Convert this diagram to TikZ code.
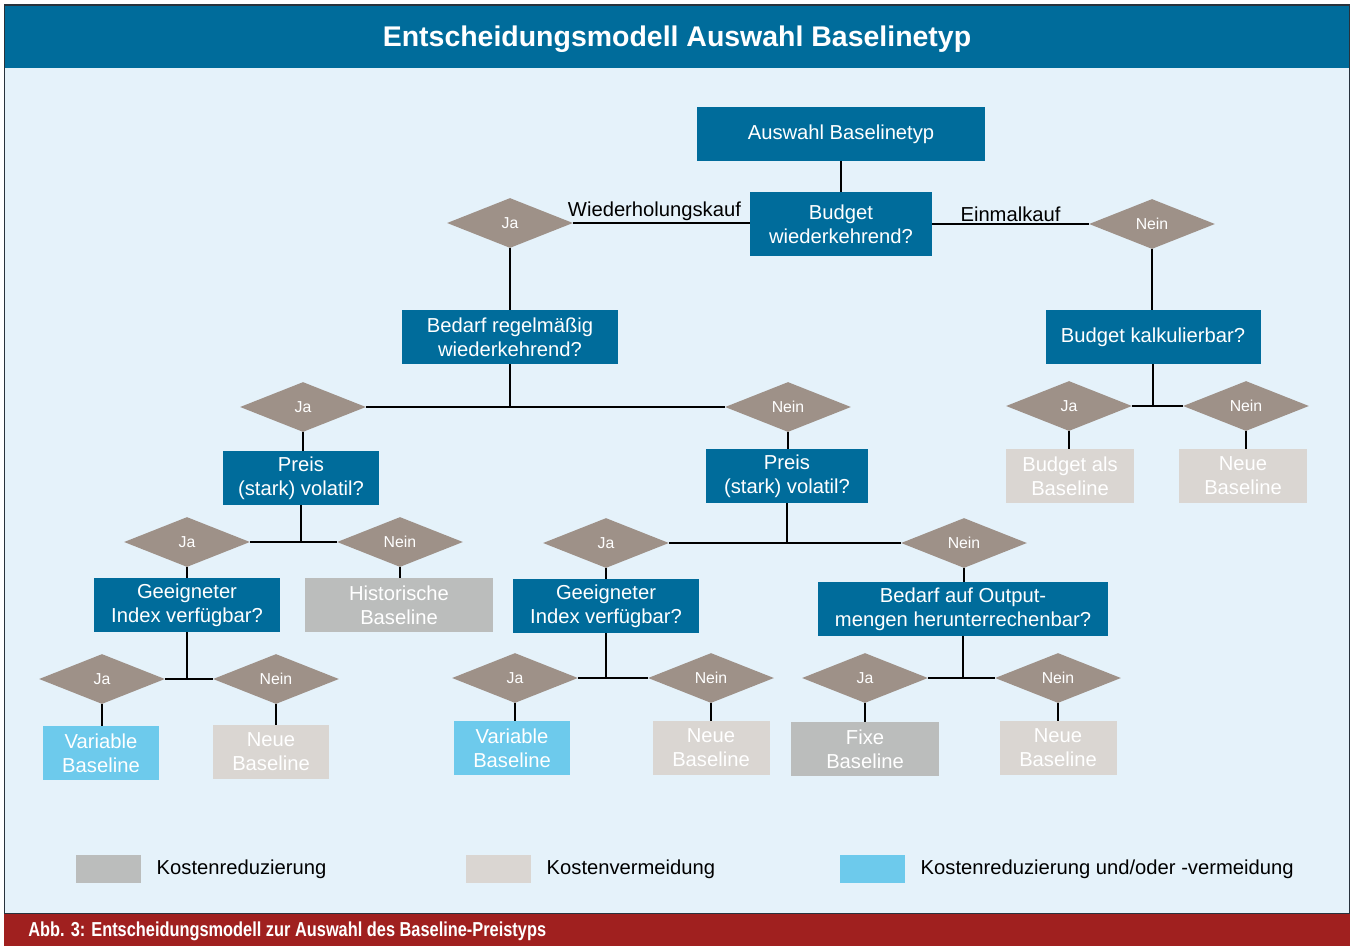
\documentclass[tikz,border=0pt]{standalone}
\usepackage{fontspec}
\setmainfont{Liberation Sans}
\newfontfamily\capfont{Liberation Sans}[FakeStretch=0.81]
\usepackage{tikz}
\usepackage{xcolor}
\usetikzlibrary{shapes.geometric, positioning}
\definecolor{bmblue}{RGB}{0, 108, 155}
\definecolor{bmback}{RGB}{229, 242, 250}
\definecolor{bmtaupe}{RGB}{158, 145, 136}
\definecolor{bmgrey}{RGB}{187, 189, 188}
\definecolor{bmbeige}{RGB}{218, 214, 210}
\definecolor{bmcyan}{RGB}{109, 202, 236}
\definecolor{bmred}{RGB}{160, 32, 31}
\definecolor{bmframe}{RGB}{40, 50, 60}
\tikzset{
    qbox/.style={rectangle, fill=bmblue, text=white, align=center, inner sep=1pt,
        minimum height=1.08cm, font=\fontsize{11.5}{13.6}\selectfont},
    kgreybox/.style={qbox, fill=bmgrey},
    kbeigebox/.style={qbox, fill=bmbeige},
    kcyanbox/.style={qbox, fill=bmcyan},
    jnnode/.style={diamond, fill=bmtaupe, text=white, inner sep=0pt,
        minimum width=2.52cm, minimum height=1cm, font=\fontsize{9}{10}\selectfont},
    edgetext/.style={above, inner sep=1pt, font=\fontsize{11.5}{13.6}\selectfont},
    legbox/.style={rectangle, minimum width=1.3cm, minimum height=0.56cm, inner sep=0pt},
    legtext/.style={right=0.3cm of #1, inner sep=0pt, font=\fontsize{11.5}{13.6}\selectfont},
    link/.style={line width=0.8pt},
    stem/.style={line width=1.1pt}
}

\begin{document}
\begin{tikzpicture}[x=0.02cm, y=-0.02cm]
    \useasboundingbox (0,0) rectangle (1354,946);
    % frame, title and caption
    \draw[bmframe, fill=bmback, line width=0.6pt] (4.5,5) rectangle (1349.5,914);
    \fill[bmblue] (5,6) rectangle (1349,68);
    \fill[bmred] (4,914) rectangle (1350,946);
    \node[text=white, font=\fontsize{16.2}{19}\selectfont\bfseries] (title) at (677,39)
        {Entscheidungsmodell Auswahl Baselinetyp};
    \node[anchor=west, text=white, inner sep=0pt, font=\capfont\bfseries\fontsize{11.5}{13}\selectfont] (caption)
        at (28,931) {Abb. 3: Entscheidungsmodell zur Auswahl des Baseline-Preistyps};

    % top
    \node[qbox, minimum width=5.76cm] (auswahl) at (841,134) {Auswahl Baselinetyp};
    \node[qbox, minimum width=3.64cm, minimum height=1.28cm] (budget) at (841,224) {Budget\\wiederkehrend?};
    \node[jnnode] (jaA) at (510,223) {Ja};
    \node[jnnode] (neinA) at (1152,224) {Nein};
    \node[qbox, minimum width=4.32cm] (bedarf) at (510,337) {Bedarf regelmäßig\\wiederkehrend?};
    \node[qbox, minimum width=4.3cm] (kalk) at (1153,337) {Budget kalkulierbar?};

    % right branch
    \node[jnnode] (jaK) at (1069,406) {Ja};
    \node[jnnode] (neinK) at (1246,406) {Nein};
    \node[kbeigebox, minimum width=2.56cm] (budgetBL) at (1070,476) {Budget als\\Baseline};
    \node[kbeigebox, minimum width=2.56cm] (neueK) at (1243,476) {Neue\\Baseline};

    % left branch
    \node[jnnode] (jaB) at (303,407) {Ja};
    \node[jnnode] (neinB) at (788,407) {Nein};
    \node[qbox, minimum width=3.14cm] (preisL) at (301,478) {Preis\\(stark) volatil?};
    \node[qbox, minimum width=3.24cm] (preisR) at (787,476) {Preis\\(stark) volatil?};

    \node[jnnode] (jaPL) at (187,542) {Ja};
    \node[jnnode] (neinPL) at (400,542) {Nein};
    \node[qbox, minimum width=3.74cm] (indexL) at (187,605) {Geeigneter\\Index verfügbar?};
    \node[kgreybox, minimum width=3.76cm] (histL) at (399,605) {Historische\\Baseline};
    \node[jnnode] (jaIL) at (102,679) {Ja};
    \node[jnnode] (neinIL) at (276,679) {Nein};
    \node[kcyanbox, minimum width=2.34cm] (varL) at (101,753) {Variable\\Baseline};
    \node[kbeigebox, minimum width=2.34cm] (neueIL) at (271,752) {Neue\\Baseline};

    \node[jnnode] (jaPR) at (606,543) {Ja};
    \node[jnnode] (neinPR) at (964,543) {Nein};
    \node[qbox, minimum width=3.74cm] (indexR) at (606,606) {Geeigneter\\Index verfügbar?};
    \node[qbox, minimum width=5.82cm] (output) at (963,609) {Bedarf auf Output-\\mengen herunterrechenbar?};
    \node[jnnode] (jaIR) at (515,678) {Ja};
    \node[jnnode] (neinIR) at (711,678) {Nein};
    \node[kcyanbox, minimum width=2.34cm] (varR) at (512,748) {Variable\\Baseline};
    \node[kbeigebox, minimum width=2.34cm] (neueIR) at (711,748) {Neue\\Baseline};
    \node[jnnode] (jaO) at (865,678) {Ja};
    \node[jnnode] (neinO) at (1058,678) {Nein};
    \node[kgreybox, minimum width=2.96cm] (fixe) at (865,749) {Fixe\\Baseline};
    \node[kbeigebox, minimum width=2.34cm] (neueO) at (1058,748) {Neue\\Baseline};

    % connectors
    \draw[stem] (auswahl.south) -- (budget.north);
    \draw[link] (jaA.east) -- node[edgetext, pos=0.46] {Wiederholungskauf} (jaA.east -| budget.west);
    \draw[link] (budget.east) -- node[edgetext] {Einmalkauf} (neinA.west);
    \draw[stem] (jaA.south) -- (bedarf.north);
    \draw[stem] (neinA.south) -- (neinA.south |- kalk.north);
    \foreach \q/\j/\n in {kalk/jaK/neinK, bedarf/jaB/neinB, preisL/jaPL/neinPL,
        indexL/jaIL/neinIL, preisR/jaPR/neinPR, indexR/jaIR/neinIR, output/jaO/neinO} {
        \draw[stem] (\q.south) -- (\q.south |- \j.east);
        \draw[link] (\j.east) -- (\n.west);
    }
    \foreach \d/\c in {jaK/budgetBL, neinK/neueK, jaPL/indexL, neinPL/histL, jaIL/varL,
        neinIL/neueIL, jaPR/indexR, neinPR/output, jaIR/varR, neinIR/neueIR, jaO/fixe, neinO/neueO, jaB/preisL, neinB/preisR} {
        \draw[link] (\d.south) -- (\d.south |- \c.north);
    }

    % legend
    \node[legbox, fill=bmgrey] (legA) at (108.5,869) {};
    \node[legtext=legA] (legAtext) {Kostenreduzierung};
    \node[legbox, fill=bmbeige] (legB) at (498.5,869) {};
    \node[legtext=legB] (legBtext) {Kostenvermeidung};
    \node[legbox, fill=bmcyan] (legC) at (872.5,869) {};
    \node[legtext=legC] (legCtext) {Kostenreduzierung und/oder -vermeidung};
\end{tikzpicture}
\end{document}
